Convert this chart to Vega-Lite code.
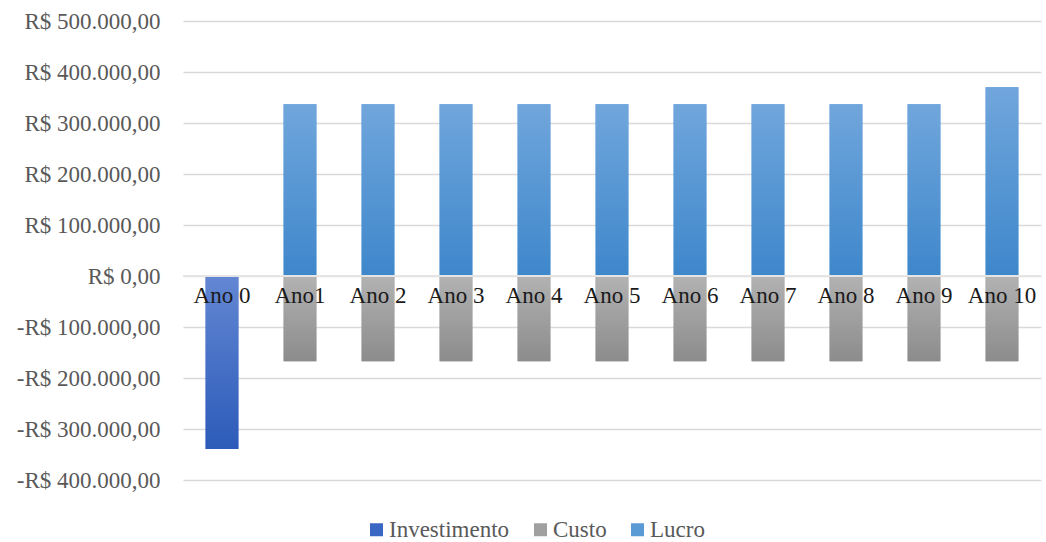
{
  "$schema": "https://vega.github.io/schema/vega-lite/v6.json",
  "width": 858,
  "height": 459,
  "autosize": {"type": "none"},
  "padding": {"left": 183, "top": 21, "right": 5, "bottom": 62},
  "background": "white",
  "config": {"view": {"stroke": null}},
  "data": {
    "values": [
      {"ano": "Ano 0", "serie": "Investimento", "valor": -339000},
      {"ano": "Ano1", "serie": "Custo", "valor": -167000},
      {"ano": "Ano1", "serie": "Lucro", "valor": 337000},
      {"ano": "Ano 2", "serie": "Custo", "valor": -167000},
      {"ano": "Ano 2", "serie": "Lucro", "valor": 337000},
      {"ano": "Ano 3", "serie": "Custo", "valor": -167000},
      {"ano": "Ano 3", "serie": "Lucro", "valor": 337000},
      {"ano": "Ano 4", "serie": "Custo", "valor": -167000},
      {"ano": "Ano 4", "serie": "Lucro", "valor": 337000},
      {"ano": "Ano 5", "serie": "Custo", "valor": -167000},
      {"ano": "Ano 5", "serie": "Lucro", "valor": 337000},
      {"ano": "Ano 6", "serie": "Custo", "valor": -167000},
      {"ano": "Ano 6", "serie": "Lucro", "valor": 337000},
      {"ano": "Ano 7", "serie": "Custo", "valor": -167000},
      {"ano": "Ano 7", "serie": "Lucro", "valor": 337000},
      {"ano": "Ano 8", "serie": "Custo", "valor": -167000},
      {"ano": "Ano 8", "serie": "Lucro", "valor": 337000},
      {"ano": "Ano 9", "serie": "Custo", "valor": -167000},
      {"ano": "Ano 9", "serie": "Lucro", "valor": 337000},
      {"ano": "Ano 10", "serie": "Custo", "valor": -167000},
      {"ano": "Ano 10", "serie": "Lucro", "valor": 370000}
    ]
  },
  "encoding": {
    "x": {
      "field": "ano",
      "type": "nominal",
      "scale": {
        "domain": ["Ano 0", "Ano1", "Ano 2", "Ano 3", "Ano 4", "Ano 5", "Ano 6", "Ano 7", "Ano 8", "Ano 9", "Ano 10"],
        "paddingInner": 0.58,
        "paddingOuter": 0.29
      },
      "axis": {
        "title": null,
        "offset": -204,
        "domain": false,
        "ticks": false,
        "labelAngle": 0,
        "labelFont": "Liberation Serif",
        "labelFontSize": 23,
        "labelColor": "#1a1a1a",
        "labelPadding": 8,
        "zindex": 2
      }
    },
    "y": {
      "field": "valor",
      "type": "quantitative",
      "scale": {"domain": [-400000, 500000], "nice": false, "zero": true},
      "axis": {
        "title": null,
        "values": [-400000, -300000, -200000, -100000, 0, 100000, 200000, 300000, 400000, 500000],
        "labelExpr": "(datum.value < 0 ? '-R$ ' : 'R$ ') + replace(replace(replace(format(abs(datum.value), ',.2f'), ',', '#'), '.', ','), '#', '.')",
        "domain": false,
        "ticks": false,
        "labelFont": "Liberation Serif",
        "labelFontSize": 23,
        "labelColor": "#595959",
        "labelPadding": 23,
        "gridColor": "#d9d9d9",
        "gridWidth": 1.4
      }
    }
  },
  "layer": [
    {
      "mark": {"type": "bar"},
      "encoding": {
        "color": {
          "field": "serie",
          "type": "nominal",
          "scale": {"domain": ["Investimento", "Custo", "Lucro"], "range": ["#3a66c4", "#a0a0a0", "#5b9bd5"]},
          "legend": {
            "title": null,
            "orient": "none",
            "legendX": 182,
            "legendY": 497,
            "direction": "horizontal",
            "symbolType": "square",
            "symbolSize": 169,
            "symbolStrokeWidth": 0,
            "labelFont": "Liberation Serif",
            "labelFontSize": 23,
            "labelColor": "#595959",
            "labelOffset": 1,
            "columnPadding": 19
          }
        }
      }
    },
    {
      "transform": [{"filter": "datum.serie === 'Investimento'"}],
      "mark": {
        "type": "bar",
        "color": {"gradient": "linear", "x1": 0, "y1": 0, "x2": 0, "y2": 1,
          "stops": [{"offset": 0, "color": "#6387d3"}, {"offset": 1, "color": "#2c5bb9"}]}
      }
    },
    {
      "transform": [{"filter": "datum.serie === 'Custo'"}],
      "mark": {
        "type": "bar",
        "color": {"gradient": "linear", "x1": 0, "y1": 0, "x2": 0, "y2": 1,
          "stops": [{"offset": 0, "color": "#b2b2b2"}, {"offset": 1, "color": "#8c8c8c"}]}
      }
    },
    {
      "transform": [{"filter": "datum.serie === 'Lucro'"}],
      "mark": {
        "type": "bar",
        "color": {"gradient": "linear", "x1": 0, "y1": 0, "x2": 0, "y2": 1,
          "stops": [{"offset": 0, "color": "#70a6dc"}, {"offset": 1, "color": "#3e87cb"}]}
      }
    },
    {
      "mark": {"type": "rule", "color": "#e4e4e4", "strokeWidth": 1.6},
      "encoding": {"y": {"datum": 0}, "x": null}
    }
  ]
}
